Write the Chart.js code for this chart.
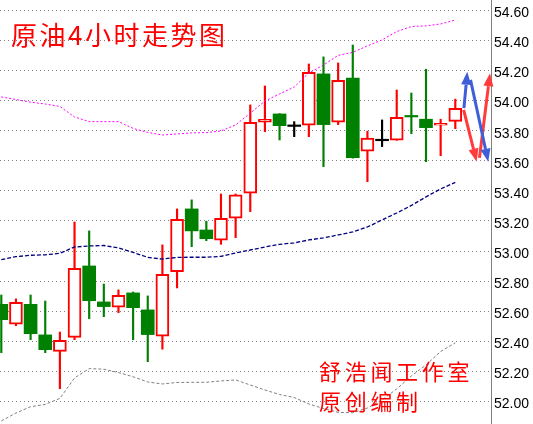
<!DOCTYPE html>
<html>
<head>
<meta charset="utf-8">
<script src="https://cdn.jsdelivr.net/npm/chart.js@4.4.1/dist/chart.umd.min.js"></script>
<style>
  html, body { margin: 0; padding: 0; background: #fff; }
  #wrap { width: 533px; height: 424px; }
</style>
</head>
<body>
<div id="wrap"><canvas id="chart" width="533" height="424"></canvas></div>
<script>
// 4小时K线, 从左到右
const opens  = [52.646, 52.514, 52.646, 52.443, 52.334, 52.427, 52.901, 52.662, 52.627, 52.722, 52.609, 52.434, 52.863, 53.280, 53.140, 53.072,
                53.218, 53.384, 53.856, 53.911, 53.833, 53.836, 54.177, 53.856, 54.150, 53.663, 53.738, 53.736, 53.897, 53.876, 53.836, 53.862];
const highs  = [52.708, 52.682, 52.708, 52.668, 52.462, 53.193, 53.134, 52.781, 52.742, 52.728, 52.702, 53.041, 53.280, 53.340, 53.198, 53.379,
                53.379, 53.971, 54.097, 53.913, 53.860, 54.243, 54.290, 54.250, 54.369, 53.796, 53.871, 54.070, 54.050, 54.208, 53.876, 54.009];
const lows   = [52.325, 52.504, 52.411, 52.325, 52.086, 52.411, 52.551, 52.564, 52.591, 52.411, 52.265, 52.348, 52.755, 53.029, 53.069, 53.045,
                53.089, 53.262, 53.793, 53.738, 53.760, 53.760, 53.561, 53.840, 53.617, 53.461, 53.694, 53.736, 53.780, 53.594, 53.634, 53.813];
const closes = [52.544, 52.660, 52.451, 52.345, 52.407, 52.886, 52.670, 52.631, 52.706, 52.624, 52.445, 52.846, 53.211, 53.134, 53.082, 53.218,
                53.373, 53.856, 53.876, 53.833, 53.833, 54.188, 53.840, 54.135, 53.621, 53.750, 53.738, 53.889, 53.895, 53.820, 53.849, 53.949];

// 布林带
const bandUpper  = [54.024, 54.007, 53.989, 53.977, 53.961, 53.891, 53.860, 53.860, 53.860, 53.815, 53.788, 53.771, 53.778, 53.785, 53.787, 53.798,
                    53.838, 53.916, 53.997, 54.044, 54.090, 54.183, 54.236, 54.300, 54.320, 54.363, 54.403, 54.458, 54.492, 54.496, 54.509, 54.535];
const bandMiddle = [52.943, 52.963, 52.972, 52.975, 52.985, 53.027, 53.034, 53.037, 53.021, 52.991, 52.958, 52.947, 52.958, 52.959, 52.959, 52.965,
                    52.987, 53.007, 53.027, 53.045, 53.054, 53.074, 53.087, 53.107, 53.127, 53.160, 53.207, 53.253, 53.303, 53.360, 53.413, 53.456];
const bandLower  = [51.871, 51.924, 51.966, 51.981, 52.021, 52.157, 52.219, 52.215, 52.193, 52.165, 52.130, 52.117, 52.127, 52.128, 52.128, 52.137,
                    52.144, 52.110, 52.077, 52.047, 52.027, 51.984, 51.954, 51.928, 51.926, 51.957, 52.011, 52.084, 52.170, 52.243, 52.333, 52.390];

const yTicks = [52.0, 52.2, 52.4, 52.6, 52.8, 53.0, 53.2, 53.4, 53.6, 53.8, 54.0, 54.2, 54.4, 54.6];

const title = '原油4小时走势图';
const signature = ['舒浩闻工作室', '原创编制'];

// 箭头: [x1, y1, x2, y2] (K线序号, 价格)
const blueArrows = [[31.59, 53.949, 31.82, 54.192], [32.04, 54.137, 33.25, 53.594]];
const redArrows  = [[31.57, 53.938, 32.46, 53.594], [32.65, 53.619, 33.37, 54.181]];

const UP = '#ff0000', DOWN = '#008000', DOJI = '#000000';

function candleColor(i) {
    if (closes[i] > opens[i]) return UP;
    if (closes[i] < opens[i]) return DOWN;
    return DOJI;
}

const idx = opens.map((_, i) => i);
const colors = idx.map(candleColor);

const bodies = idx.map(i => {
    const o = opens[i], c = closes[i];
    if (Math.abs(c - o) < 0.006) {
        const m = (o + c) / 2;
        return { x: i, y: [m - 0.005, m + 0.005] };
    }
    return { x: i, y: [Math.min(o, c), Math.max(o, c)] };
});
const wicks = idx.map(i => ({ x: i, y: [lows[i], highs[i]] }));
const toPoints = arr => arr.map((v, i) => ({ x: i, y: v }));

const overlay = {
    id: 'overlay',
    afterDraw(chart) {
        const { ctx, scales: { x, y } } = chart;
        ctx.save();

        const arrow = (a, color) => {
            const x1 = x.getPixelForValue(a[0]), y1 = y.getPixelForValue(a[1]);
            const x2 = x.getPixelForValue(a[2]), y2 = y.getPixelForValue(a[3]);
            const ang = Math.atan2(y2 - y1, x2 - x1);
            const head = 13, half = 5;
            const bx = x2 - head * Math.cos(ang), by = y2 - head * Math.sin(ang);
            ctx.strokeStyle = color;
            ctx.fillStyle = color;
            ctx.lineWidth = 3;
            ctx.beginPath();
            ctx.moveTo(x1, y1);
            ctx.lineTo(bx, by);
            ctx.stroke();
            ctx.beginPath();
            ctx.moveTo(x2, y2);
            ctx.lineTo(bx + half * Math.sin(ang), by - half * Math.cos(ang));
            ctx.lineTo(bx - half * Math.sin(ang), by + half * Math.cos(ang));
            ctx.closePath();
            ctx.fill();
        };
        redArrows.forEach(a => arrow(a, '#ff3b3b'));
        blueArrows.forEach(a => arrow(a, '#3f5fd8'));

        ctx.fillStyle = '#ff0000';
        ctx.textBaseline = 'middle';
        ctx.font = '26px "Noto Sans CJK SC"';
        ctx.letterSpacing = '2.5px';
        ctx.fillText(title, 11, 35);
        ctx.font = '22px "Noto Sans CJK SC"';
        ctx.letterSpacing = '3.7px';
        ctx.fillText(signature[0], 319, 372);
        ctx.fillText(signature[1], 319, 402);
        ctx.letterSpacing = '0px';
        ctx.restore();
    }
};

new Chart(document.getElementById('chart'), {
    type: 'bar',
    data: {
        datasets: [
            { type: 'line', data: toPoints(bandUpper), borderColor: '#ff00ff', borderWidth: 1, borderDash: [2, 2], pointRadius: 0, tension: 0, fill: false },
            { type: 'line', data: toPoints(bandMiddle), borderColor: '#000080', borderWidth: 1.3, borderDash: [4, 2], pointRadius: 0, tension: 0, fill: false },
            { type: 'line', data: toPoints(bandLower), borderColor: '#808080', borderWidth: 1, borderDash: [3, 2], pointRadius: 0, tension: 0, fill: false },
            {
                data: bodies,
                grouped: false,
                barThickness: 13,
                maxBarThickness: 13,
                backgroundColor: idx.map(i => colors[i] === UP ? '#ffffff' : colors[i]),
                borderColor: colors,
                borderWidth: idx.map(i => colors[i] === UP ? 2 : 0),
                borderSkipped: false
            },
            {
                data: wicks,
                grouped: false,
                barThickness: 1.5,
                maxBarThickness: 1.5,
                backgroundColor: colors,
                borderWidth: 0
            }
        ]
    },
    options: {
        responsive: false,
        animation: false,
        layout: { padding: 0 },
        plugins: { legend: { display: false }, tooltip: { enabled: false } },
        scales: {
            x: { type: 'linear', min: -0.089, max: 33.438, offset: false, display: false },
            y: {
                position: 'right',
                min: 51.851,
                max: 54.668,
                afterBuildTicks: s => { s.ticks = yTicks.map(v => ({ value: v })); },
                afterFit: s => { s.width = 42; s.paddingTop = 0; s.paddingBottom = 0; },
                ticks: {
                    callback: v => Number(v).toFixed(2),
                    color: '#000',
                    font: { family: 'Liberation Sans', size: 14 },
                    padding: 3,
                    labelOffset: 3,
                    autoSkip: false
                },
                grid: { color: '#808080', lineWidth: 1, drawTicks: false },
                border: { display: true, color: '#808080', width: 1, dash: [1, 3] }
            }
        }
    },
    plugins: [overlay]
});
</script>
</body>
</html>
